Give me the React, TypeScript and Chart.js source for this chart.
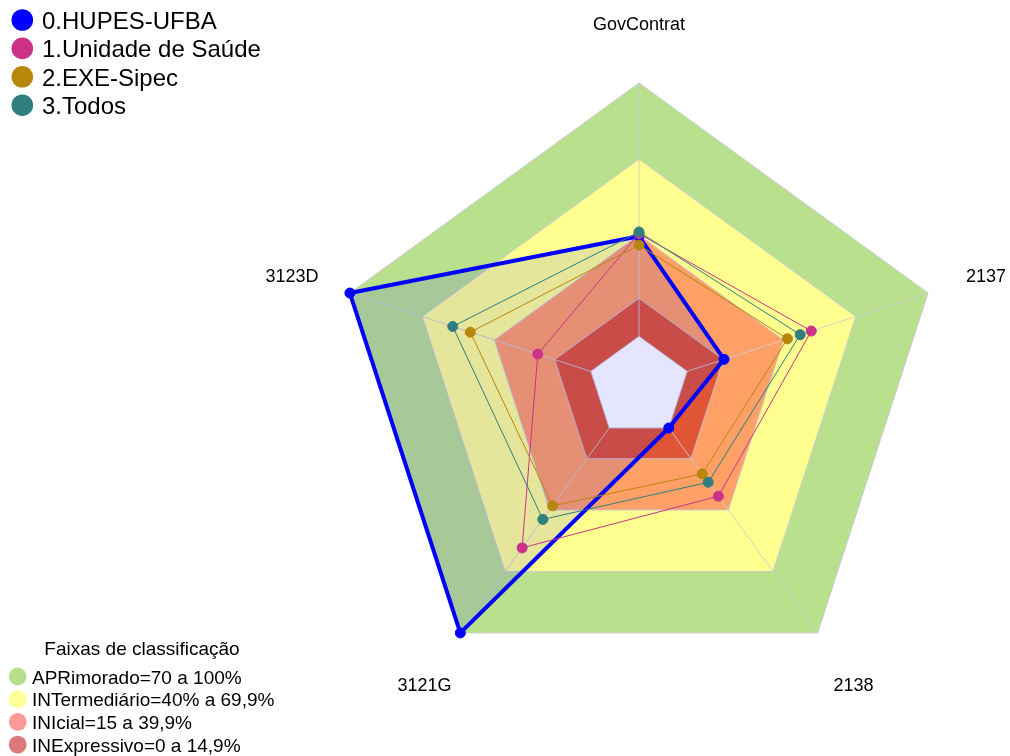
import React, { useEffect, useRef } from 'react';
import { Chart, registerables } from 'chart.js';

Chart.register(...registerables);

// ---- data ----
const categories = ['GovContrat', '2137', '2138', '3121G', '3123D'];
const seriesNames = ['0.HUPES-UFBA', '1.Unidade de Saúde', '2.EXE-Sipec', '3.Todos'];
const hupesValues = [39.5, 15.3, 0, 100, 100];
const unidadeValues = [40.5, 51.5, 33.3, 58.5, 22];
const exeValues = [36, 41.6, 22.4, 38, 50];
const todosValues = [41.2, 46.9, 26.5, 44.6, 57.3];
const seriesColors = ['#0000FF', '#CC3388', '#B8860B', '#2F7F7F'];

const bandTitle = 'Faixas de classificação';
const bandNames = ['APRimorado=70 a 100%', 'INTermediário=40% a 69,9%', 'INIcial=15 a 39,9%', 'INExpressivo=0 a 14,9%'];
const bandUpper = [100, 70, 40, 15];
const bandLower = 0;
const bandFillColors = ['#B9E08C', '#FFFF90', '#FFA066', '#E05535'];
const bandLegendColors = ['#B7DE8C', '#FFFF99', '#FF9A9A', '#DB7A7A'];
const scaleMin = -20;
const scaleMax = 100;

const FONT = '"Liberation Sans", Arial, sans-serif';

const bandPlugin = {
  id: 'bands',
  beforeDatasetsDraw(chart: any) {
    const scale = chart.scales.r;
    const ctx = chart.ctx;
    const n = chart.data.labels.length;
    const poly = (v: number) => {
      ctx.beginPath();
      for (let i = 0; i < n; i++) {
        const p = scale.getPointPositionForValue(i, v);
        if (i === 0) ctx.moveTo(p.x, p.y);
        else ctx.lineTo(p.x, p.y);
      }
      ctx.closePath();
    };
    ctx.save();
    bandUpper.forEach((v, k) => {
      poly(v);
      ctx.fillStyle = bandFillColors[k];
      ctx.fill();
    });
    poly(bandLower);
    ctx.fillStyle = '#FFFFFF';
    ctx.fill();
    ctx.lineWidth = 1;
    ctx.strokeStyle = 'rgba(200,200,215,0.9)';
    [...bandUpper, bandLower].forEach((v) => {
      poly(v);
      ctx.stroke();
    });
    ctx.strokeStyle = 'rgba(205,205,205,0.9)';
    for (let i = 0; i < n; i++) {
      const p0 = scale.getPointPositionForValue(i, bandLower);
      const p1 = scale.getPointPositionForValue(i, scaleMax);
      ctx.beginPath();
      ctx.moveTo(p0.x, p0.y);
      ctx.lineTo(p1.x, p1.y);
      ctx.stroke();
    }
    ctx.restore();
  },
};

const textPlugin = {
  id: 'texts',
  afterDraw(chart: any) {
    const scale = chart.scales.r;
    const ctx = chart.ctx;
    ctx.save();
    // axis labels
    ctx.fillStyle = '#000000';
    ctx.font = `18px ${FONT}`;
    ctx.textAlign = 'center';
    ctx.textBaseline = 'middle';
    const dist = scale.getDistanceFromCenterForValue(scaleMax) * 1.2;
    categories.forEach((c, i) => {
      const p = scale.getPointPosition(i, dist);
      ctx.fillText(c, p.x, p.y + (p.y > scale.yCenter ? 4 : 2.5));
    });
    // series legend
    ctx.textAlign = 'left';
    ctx.font = `24px ${FONT}`;
    seriesNames.forEach((name, k) => {
      const y = 20 + 28.4 * k;
      ctx.beginPath();
      ctx.arc(22.3, y, 10.8, 0, Math.PI * 2);
      ctx.fillStyle = seriesColors[k];
      ctx.fill();
      ctx.fillStyle = '#000000';
      ctx.fillText(name, 42, y + 2.3);
    });
    // band legend
    ctx.font = `19px ${FONT}`;
    ctx.textAlign = 'center';
    ctx.fillStyle = '#000000';
    ctx.fillText(bandTitle, 142, 649.5);
    ctx.textAlign = 'left';
    bandNames.forEach((name, k) => {
      const y = 676.5 + 22.7 * k;
      ctx.beginPath();
      ctx.arc(17.7, y, 8.9, 0, Math.PI * 2);
      ctx.fillStyle = bandLegendColors[k];
      ctx.fill();
      ctx.fillStyle = '#000000';
      ctx.fillText(name, 32, y + 1.8);
    });
    ctx.restore();
  },
};

export default function App() {
  const canvasRef = useRef<HTMLCanvasElement | null>(null);

  useEffect(() => {
    if (!canvasRef.current) return;
    const seriesValues = [hupesValues, unidadeValues, exeValues, todosValues];
    const chart = new Chart(canvasRef.current, {
      type: 'radar',
      data: {
        labels: categories,
        datasets: seriesValues.map((vals, k) => ({
          label: seriesNames[k],
          data: vals,
          borderColor: seriesColors[k],
          backgroundColor: k === 0 ? 'rgba(0,0,255,0.1)' : 'rgba(0,0,0,0)',
          fill: k === 0 ? 'start' : false,
          borderWidth: k === 0 ? 4 : 1,
          borderJoinStyle: 'round' as const,
          pointRadius: 5,
          pointBorderWidth: 1,
          pointBackgroundColor: seriesColors[k],
          pointBorderColor: seriesColors[k],
          order: 4 - k,
        })),
      },
      options: {
        responsive: false,
        animation: false,
        devicePixelRatio: 1,
        layout: { padding: { left: 335, right: 67, top: 83, bottom: 65 } },
        plugins: { legend: { display: false }, tooltip: { enabled: false } },
        scales: {
          r: {
            min: scaleMin,
            max: scaleMax,
            ticks: { display: false },
            grid: { display: false },
            angleLines: { display: false },
            pointLabels: { display: false },
          },
        },
      },
      plugins: [bandPlugin, textPlugin],
    });
    return () => chart.destroy();
  }, []);

  return (
    <div style={{ position: 'absolute', left: 0, top: 0, width: 1010, height: 756, background: '#FFFFFF' }}>
      <canvas ref={canvasRef} width={1010} height={756} style={{ width: 1010, height: 756, display: 'block' }} />
    </div>
  );
}
